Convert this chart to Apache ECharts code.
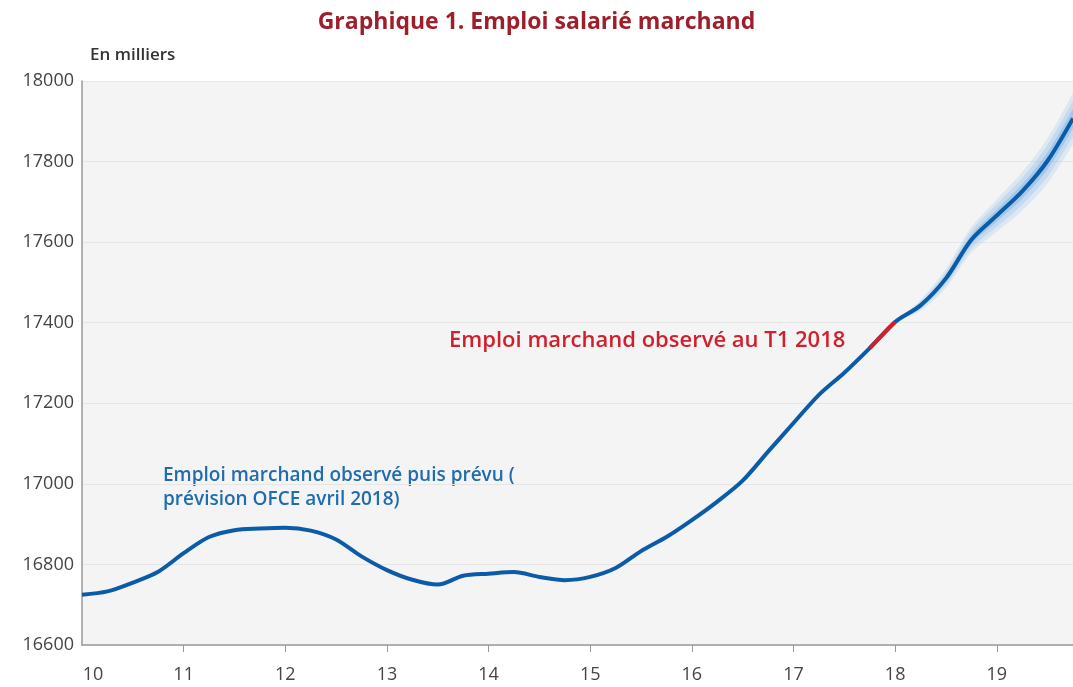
<!DOCTYPE html>
<html>
<head>
<meta charset="utf-8">
<script src="https://cdn.jsdelivr.net/npm/echarts@6/dist/echarts.min.js"></script>
<style>html,body{margin:0;padding:0;background:#fff;}#c{width:1073px;height:687px;}</style>
</head>
<body>
<div id="c"></div>
<script>
// Quarters 2010T1 .. 2019T4
const quarters = [];
for (let y = 2010; y <= 2019; y++) for (let q = 1; q <= 4; q++) quarters.push(y + 'T' + q);
const yearLabels = ['10','11','12','13','14','15','16','17','18','19'];
// Emploi salarié marchand (milliers)
const emploi = [
  16725, 16733, 16755, 16782,
  16828, 16868, 16885, 16889,
  16891, 16884, 16862, 16820,
  16786, 16762, 16750, 16772,
  16777, 16781, 16769, 16761,
  16769, 16791, 16833, 16868,
  16910, 16956, 17008, 17080,
  17151, 17221, 17276, 17337,
  17402, 17443, 17510, 17606,
  17666, 17726, 17802, 17907
];
// Observed T1 2018 segment (index 31 -> 32)
const obsT1Start = 31, obsT1End = 32;
// Fan chart half-widths (milliers) from 2018T1 (index 32) to 2019T4
const fanStart = 32;
const fanOuter = [0, 14, 24, 32, 40, 48, 56, 64];
const fanMid   = [0, 9, 16, 22, 28, 33, 39, 44];
const fanInner = [0, 5, 9, 12, 15, 18, 21, 24];
const yTicks = [16600, 18000, 200];

const redSeg = emploi.map((v, i) => (i >= obsT1Start && i <= obsT1End) ? v : null);
function band(dev) {
  const lower = emploi.map((v, i) => i >= fanStart ? v - dev[i - fanStart] : null);
  const width = emploi.map((v, i) => i >= fanStart ? 2 * dev[i - fanStart] : null);
  return [lower, width];
}
const bands = [[fanOuter, 'rgba(150,195,240,0.35)'], [fanMid, 'rgba(120,175,232,0.35)'], [fanInner, 'rgba(90,155,222,0.4)']];
const bandSeries = [];
bands.forEach((b, k) => {
  const [lower, width] = band(b[0]);
  bandSeries.push({
    type: 'line', data: lower, stack: 'fan' + k, symbol: 'none', smooth: 0.3,
    lineStyle: { opacity: 0 }, silent: true, z: 1
  });
  bandSeries.push({
    type: 'line', data: width, stack: 'fan' + k, symbol: 'none', smooth: 0.3,
    lineStyle: { opacity: 0 }, areaStyle: { color: b[1] }, silent: true, z: 1
  });
});

const chart = echarts.init(document.getElementById('c'));
chart.setOption({
  animation: false,
  title: {
    text: 'Graphique 1. Emploi salarié marchand',
    left: 'center', top: 6,
    textStyle: { fontFamily: 'Open Sans', fontWeight: 700, fontSize: 23, color: '#9e1f2a' }
  },
  graphic: [
    { type: 'text', left: 90, top: 47, style: { text: 'En milliers', font: '600 17px "Open Sans"', fill: '#333' } },
    { type: 'text', left: 163, top: 464, style: { text: 'Emploi marchand observé puis prévu (\nprévision OFCE avril 2018)', font: '600 19px "Open Sans"', fill: '#1f6cb0', lineHeight: 24 } },
    { type: 'text', left: 449, top: 330, style: { text: 'Emploi marchand observé au T1 2018', font: '600 22px "Open Sans"', fill: '#d0202e' } }
  ],
  grid: { left: 82, right: 0, top: 81, bottom: 42, show: true, backgroundColor: '#f4f4f4', borderWidth: 0 },
  xAxis: {
    type: 'category', data: quarters, boundaryGap: false,
    axisLine: { lineStyle: { color: '#999', width: 1.5 } },
    axisTick: { show: true, length: 7, interval: (i) => i % 4 === 0 && i > 0, lineStyle: { color: '#999' } },
    axisLabel: {
      interval: (i) => i % 4 === 0, margin: 21,
      formatter: (v, i) => i === 0 ? '{f|' + yearLabels[0] + '}' : yearLabels[i / 4],
      fontFamily: 'Open Sans', fontSize: 18, color: '#444',
      rich: { f: { padding: [0, 0, 0, 22], fontFamily: 'Open Sans', fontSize: 18, color: '#444' } }
    },
    splitLine: { show: false }
  },
  yAxis: {
    type: 'value', min: yTicks[0], max: yTicks[1], interval: yTicks[2],
    axisLine: { show: true, lineStyle: { color: '#999', width: 1.5 } },
    axisTick: { show: false },
    axisLabel: { fontFamily: 'Open Sans', fontSize: 18, color: '#444', margin: 8, formatter: (v) => String(v) },
    splitLine: { lineStyle: { color: '#e6e6e6', width: 1 } }
  },
  series: bandSeries.concat([
    { type: 'line', data: emploi, symbol: 'none', smooth: 0.3, lineStyle: { color: '#0a5ca8', width: 4 }, z: 3 },
    { type: 'line', data: redSeg, symbol: 'none', lineStyle: { color: '#d0202e', width: 4 }, z: 4 }
  ])
});
</script>
</body>
</html>
